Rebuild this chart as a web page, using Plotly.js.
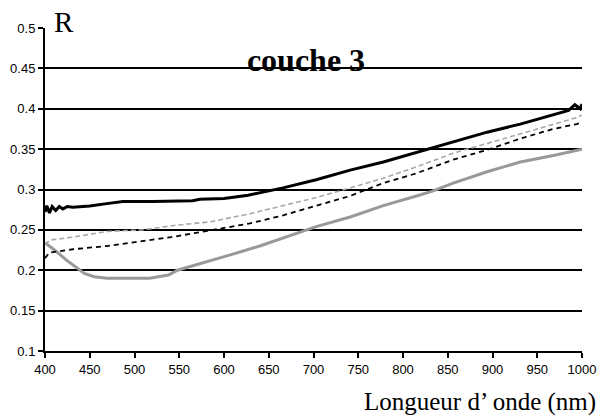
<!DOCTYPE html>
<html>
<head>
<meta charset="utf-8">
<script src="https://cdn.plot.ly/plotly-3.0.1.min.js"></script>
<style>html,body{margin:0;padding:0;background:#fff;}#chart{width:600px;height:419px;}</style>
</head>
<body>
<div id="chart"></div>
<script>
// Black solid series
const blackX = [400,402,405,408,412,416,420,425,431,450,469,487,520,565,573,600,627,666,703,741,778,815,830,856,894,931,968,985,992,998,1000];
const blackY = [0.272,0.280,0.271,0.279,0.274,0.279,0.276,0.279,0.278,0.2795,0.2825,0.285,0.285,0.286,0.288,0.289,0.293,0.302,0.312,0.324,0.334,0.346,0.350,0.359,0.371,0.381,0.393,0.398,0.405,0.400,0.406];
// Light grey dashed series
const greyDashX = [400,406,431,469,509,548,585,629,666,703,741,778,815,856,894,931,968,994,1000];
const greyDashY = [0.232,0.2375,0.241,0.248,0.25,0.256,0.26,0.27,0.28,0.29,0.302,0.314,0.328,0.345,0.357,0.369,0.381,0.389,0.392];
// Black dashed series
const blackDashX = [400,405,413,431,469,509,541,562,596,629,666,703,741,778,815,856,894,931,968,994,1000];
const blackDashY = [0.215,0.222,0.223,0.226,0.23,0.236,0.241,0.245,0.252,0.258,0.268,0.28,0.292,0.308,0.32,0.337,0.349,0.363,0.375,0.381,0.383];
// Grey solid series
const greyX = [400,413,424,437,444,455,469,517,538,548,567,585,607,640,703,741,778,815,833,856,894,931,968,1000];
const greyY = [0.234,0.223,0.2125,0.202,0.196,0.192,0.19,0.19,0.194,0.2,0.206,0.2125,0.219,0.23,0.254,0.266,0.28,0.292,0.298,0.308,0.322,0.334,0.342,0.35];

const titleText = 'couche 3';
const yLabel = 'R';
const xLabel = 'Longueur d\u2019 onde (nm)';

const traces = [
  {x: greyX, y: greyY, mode: 'lines', line: {color: '#999999', width: 3}, hoverinfo: 'skip'},
  {x: greyDashX, y: greyDashY, mode: 'lines', line: {color: '#a8a8a8', width: 1.6, dash: '5px,3px'}, hoverinfo: 'skip'},
  {x: blackDashX, y: blackDashY, mode: 'lines', line: {color: '#000000', width: 1.8, dash: '5px,4px'}, hoverinfo: 'skip'},
  {x: blackX, y: blackY, mode: 'lines', line: {color: '#000000', width: 3}, hoverinfo: 'skip'}
];

const tickFont = {family: 'Liberation Sans, Arial, sans-serif', size: 13, color: '#000'};
const layout = {
  width: 600, height: 419,
  margin: {l: 45, r: 18, t: 28, b: 68},
  paper_bgcolor: '#fff', plot_bgcolor: '#fff',
  showlegend: false,
  title: {text: '<b>' + titleText + '</b>', font: {family: 'Liberation Serif, Times New Roman, serif', size: 32, color: '#000'},
          x: 0.51, xanchor: 'center', xref: 'container', y: 1 - 60/419, yanchor: 'middle', yref: 'container'},
  xaxis: {range: [400, 1000], tick0: 400, dtick: 50, showgrid: false, zeroline: false,
          showline: true, linecolor: '#000', linewidth: 2, ticks: 'outside', ticklen: 5, tickwidth: 2, tickcolor: '#000',
          tickfont: tickFont, fixedrange: true},
  yaxis: {range: [0.1, 0.5], tick0: 0.1, dtick: 0.05, showgrid: true, gridcolor: '#000', gridwidth: 2, zeroline: false,
          showline: true, linecolor: '#000', linewidth: 2, ticks: 'outside', ticklen: 5, tickwidth: 2, tickcolor: '#000',
          tickfont: tickFont, fixedrange: true},
  annotations: [
    {text: yLabel, xref: 'paper', yref: 'paper', x: 0.036, y: 1.02, xanchor: 'center', yanchor: 'middle', showarrow: false,
     font: {family: 'Liberation Serif, Times New Roman, serif', size: 29, color: '#000'}},
    {text: xLabel, xref: 'paper', yref: 'paper', x: 1.03, y: -0.158, xanchor: 'right', yanchor: 'middle', showarrow: false,
     font: {family: 'Liberation Serif, Times New Roman, serif', size: 25, color: '#000'}}
  ]
};
Plotly.newPlot('chart', traces, layout, {displayModeBar: false, staticPlot: true});
</script>
</body>
</html>
